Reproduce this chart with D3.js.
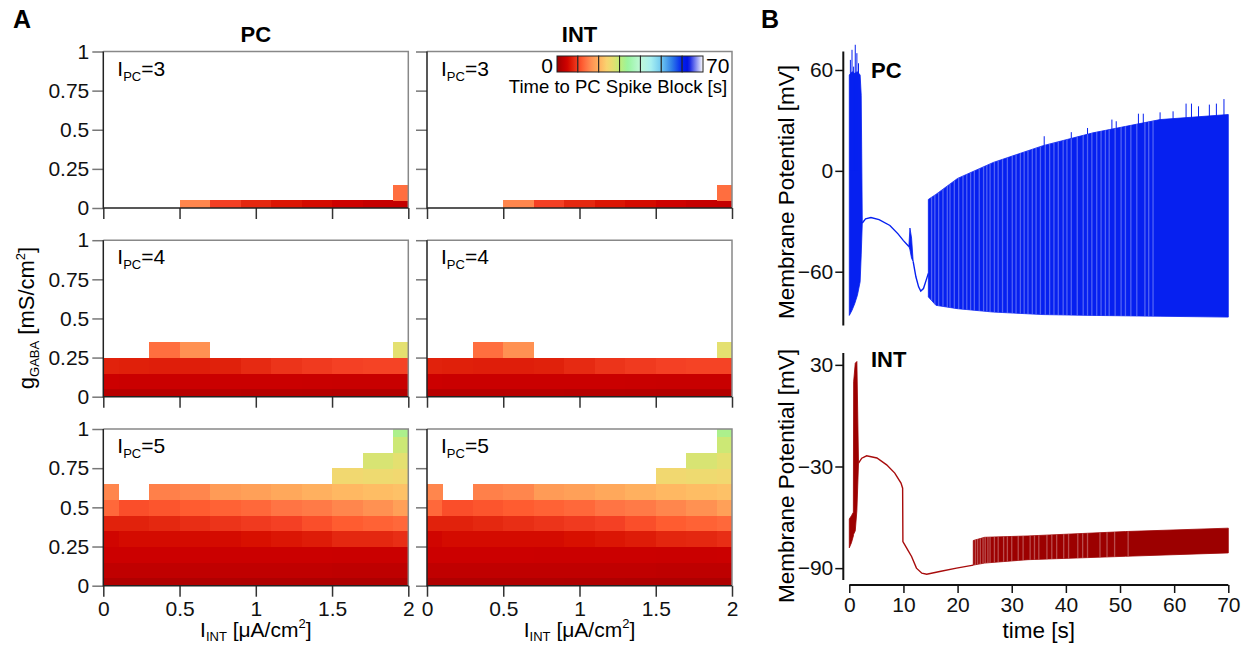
<!DOCTYPE html>
<html>
<head>
<meta charset="utf-8">
<script src="https://cdn.jsdelivr.net/npm/d3@7"></script>
<style>
body{ margin:0; background:#fff; }
svg{ font-family: 'Liberation Sans', Arial, Helvetica, sans-serif; }
</style>
</head>
<body>
<svg id="fig" width="1248" height="648"></svg>
<script>
var N = null;

/**************************************************************************************/
// panel A: parameter grid

var gridX = [0, 0.2, 0.4, 0.6, 0.8, 1.0, 1.2, 1.4, 1.6, 1.8, 2.0];
var gridY = [0, 0.1, 0.2, 0.3, 0.4, 0.5, 0.6, 0.7, 0.8, 0.9, 1.0];
var xTicks = [0, 0.5, 1, 1.5, 2];
var yTicks = [0, 0.25, 0.5, 0.75, 1];
var columns = ['PC', 'INT'];
var currentsPC = [3, 4, 5];

// time to PC spike block [s], one row per gGABA value (bottom up), one entry per I_INT
var blockPC3 = [
    [N, N, N, 15.5, 10, 8, 6.5, 5.5, 4.6, 3.8, 3.5],
    [N, N, N, N, N, N, N, N, N, N, 13.5]
];
var blockPC4 = [
    [2.5, 2.5, 2.5, 2.5, 2.5, 2.4, 2.4, 2.3, 2.2, 2.2, 2.2],
    [4.5, 4.3, 4.3, 4.3, 4.2, 4.2, 4.2, 4.1, 4.0, 4.0, 4.0],
    [7.5, 7.3, 7.2, 7.2, 7.4, 8.2, 9.0, 9.5, 10, 10.2, 10.2],
    [N, N, 13.5, 16.5, N, N, N, N, N, N, 27]
];
var blockPC5 = [
    [2, 2, 2, 2, 2, 1.9, 1.9, 1.8, 1.8, 1.8, 1.8],
    [3, 3, 3, 3, 3, 3, 3, 3, 2.9, 2.9, 2.9],
    [4.5, 4.5, 4.5, 4.5, 4.4, 4.4, 4.4, 4.4, 4.3, 4.3, 4.3],
    [5, 5.5, 5.5, 5.5, 5.5, 6, 6.5, 7, 8, 8, 8.5],
    [7.5, 7.5, 8, 8.5, 9, 9.5, 10, 11, 12, 12.5, 13],
    [13, 11, 11.5, 12, 12.5, 13, 14, 14.5, 15.5, 16.5, 18],
    [15.5, N, 15, 15.5, 17.5, 18, 19, 20, 21, 21.5, 22],
    [N, N, N, N, N, N, N, N, 25, 25.5, 25],
    [N, N, N, N, N, N, N, N, N, 28, 27],
    [N, N, N, N, N, N, N, N, N, N, 29],
    [N, N, N, N, N, N, N, N, N, N, 32]
];
var blockINT3 = [
    [N, N, N, 15.5, 10, 8, 6.5, 5.5, 4.6, 3.8, 3.5],
    [N, N, N, N, N, N, N, N, N, N, 13.5]
];
var blockINT4 = [
    [2.5, 2.5, 2.5, 2.5, 2.5, 2.4, 2.4, 2.3, 2.2, 2.2, 2.2],
    [4.5, 4.3, 4.3, 4.3, 4.2, 4.2, 4.2, 4.1, 4.0, 4.0, 4.0],
    [7.5, 7.3, 7.2, 7.2, 7.4, 8.2, 9.0, 9.5, 10, 10.2, 10.2],
    [N, N, 13.5, 16.5, N, N, N, N, N, N, 27]
];
var blockINT5 = [
    [2, 2, 2, 2, 2, 1.9, 1.9, 1.8, 1.8, 1.8, 1.8],
    [3, 3, 3, 3, 3, 3, 3, 3, 2.9, 2.9, 2.9],
    [4.5, 4.5, 4.5, 4.5, 4.4, 4.4, 4.4, 4.4, 4.3, 4.3, 4.4],
    [5, 5.5, 5.5, 5.5, 5.5, 6, 6.5, 7, 7.8, 8, 8.5],
    [7.5, 7.5, 8, 8.5, 9, 9.5, 10, 11, 12, 12.5, 13],
    [13, 11, 11.5, 12, 12.5, 13, 14, 14.5, 15.5, 16.5, 18],
    [15.5, N, 15, 15.5, 17.5, 18, 19, 20, 21, 21.5, 22],
    [N, N, N, N, N, N, N, N, 25, 25.5, 25],
    [N, N, N, N, N, N, N, N, N, 28, 27],
    [N, N, N, N, N, N, N, N, N, N, 29],
    [N, N, N, N, N, N, N, N, N, N, 32]
];

/**************************************************************************************/
// panel B: membrane potential traces [s], [mV]

var pcBurstT  = [0, 0.5, 1.0, 1.5, 2.0, 2.2, 2.4];
var pcBurstHi = [57, 59, 58, 59, 57, 45, -31];
var pcBurstLo = [-86, -83, -79, -74, -66, -50, -31];
var pcBurstPeakT = [0.2, 0.5, 0.8, 1.1, 1.4, 1.7];
var pcBurstPeakV = [66, 72, 62, 75, 70, 64];

var pcSlowT = [2.4, 3.0, 4.0, 5.5, 7.5, 9.0, 10.0, 11.0];
var pcSlowV = [-31, -28.5, -27.8, -29, -32.5, -37.5, -41.5, -45];

var pcKinkT  = [11.0, 11.2, 11.5, 11.8];
var pcKinkHi = [-45, -34, -40, -54];
var pcKinkLo = [-45, -47, -52, -54];

var pcDipT = [11.8, 12.3, 12.8, 13.2, 13.7, 14.2, 14.6];
var pcDipV = [-54, -63, -69, -71.5, -70, -65, -61];

var pcDenseT  = [14.6, 16, 20, 26.6, 35.8, 45, 57.4, 70];
var pcDenseHi = [-17, -14, -4.5, 5, 15, 22.6, 30.5, 33.5];
var pcDenseLo = [-75, -80, -82, -84, -85.5, -86, -86.5, -87];
var pcPeakT = [36, 41, 44, 48.5, 49.3, 53.4, 54.3, 57.4, 59.8, 62.2, 63.2, 64.5, 66.5, 67.8, 69.2];
var pcPeakV = [20.6, 23, 25.5, 30.5, 29.5, 34, 34, 34.8, 35.4, 40, 40, 38.4, 39.4, 40, 42.7];
var pcGapT = [15.2, 15.8, 16.5, 17.3, 18.1, 18.6, 19.4, 20.2, 21, 21.7, 22.4, 23.1, 24, 24.8, 25.4,
              26, 26.8, 27.5, 28.3, 29.2, 30.1, 30.8, 31.6, 32.3, 33, 33.8, 34.5, 35.3, 36.2, 37,
              37.8, 38.6, 39.5, 40.2, 41, 42.1, 43.2, 44, 44.8, 45.7, 46.5, 47.3, 48, 49.1, 50.2,
              51, 52, 53.1, 54.6, 55.3, 56.1];

var intBurstT  = [0, 0.4, 0.75, 0.8, 1.1, 1.4, 1.7];
var intBurstHi = [-61, -59, -57, 20, 31, 32, -28];
var intBurstLo = [-78, -75, -71, -70, -68, -56, -28];

var intSlowT = [1.7, 2.3, 3.2, 5.1, 6.9, 8.4, 9.55, 9.85, 9.9, 10.6, 11.5, 12.4, 13.4, 14.3, 16.7, 19.8, 22.9];
var intSlowV = [-28, -25.1, -23.7, -25, -29, -33.9, -39.8, -42.8, -74.3, -78.2, -83.1, -90, -93, -93.6, -92, -90, -88.2];

var intBandT  = [22.9, 25, 33, 51, 70];
var intBandHi = [-73.7, -71.8, -71, -68.4, -66.4];
var intBandLo = [-88.2, -87, -85, -83, -81];
var intGapT = [23.3, 23.7, 24.2, 24.7, 25.1, 25.6, 26, 26.8, 27.5, 28.5, 29.2, 30, 31.2, 32.1, 33.4,
               34.2, 35, 36.5, 37.4, 38.3, 39.6, 40.5, 42.2, 43.1, 44, 46.3, 47.6, 49, 51.5];

var timeTicks = [0, 10, 20, 30, 40, 50, 60, 70];
var pcTicks = [-60, 0, 60];
var intTicks = [-90, -30, 30];

/**************************************************************************************/
// colour map of the block time

var cmapV = [0, 2, 3, 4.5, 6, 8, 10, 12, 14, 16, 18, 21, 24, 27, 30, 34, 40, 45, 50, 55, 60, 63, 70];
var cmapC = ['#9a0000','#b00000','#c00000','#cc0000','#d81000','#e42810','#f44024','#ff5c30','#ff7444',
             '#ff8c50','#ffa058','#ffb862','#f8d470','#e4e070','#c0ec78','#98f4a0','#c0f8d8','#a8f0f0',
             '#70c8f0','#3080e8','#0020f0','#0010e0','#ffffff'];
var cmap = d3.scaleLinear().domain(cmapV).range(cmapC).interpolate(d3.interpolateRgb).clamp(true);

var svg = d3.select('#fig');
var colRange = [[103.3, 408.3], [427, 732]];
var rowRange = [[208, 51.5], [396.7, 240.2], [585.7, 429]];
var BLUE = '#0620f0', RED = '#9c0000';

/**************************************************************************************/

function style_axis(g, size){
    g.select('.domain').remove();
    g.attr('font-family', null).attr('font-size', null);
    g.selectAll('text').attr('font-size', size).attr('fill', '#111');
}

function draw_heatmap(col, row, data){
    var x = d3.scaleLinear().domain([0, 2]).range(colRange[col]);
    var y = d3.scaleLinear().domain([0, 1]).range(rowRange[row]);
    var dx = (gridX[1]-gridX[0])/2, dy = (gridY[1]-gridY[0])/2;
    var g = svg.append('g');

    var cells = [];
    data.forEach(function(r, i){
        r.forEach(function(v, j){
            if(v == null){ return }
            cells.push({ x0: Math.max(0, gridX[j]-dx), x1: Math.min(2, gridX[j]+dx),
                         y0: Math.max(0, gridY[i]-dy), y1: Math.min(1, gridY[i]+dy), v: v });
        });
    });

    g.selectAll('rect.cell').data(cells).enter().append('rect')
        .attr('class', 'cell')
        .attr('x', function(d){ return x(d.x0) })
        .attr('y', function(d){ return y(d.y1) })
        .attr('width', function(d){ return x(d.x1)-x(d.x0)+0.4 })
        .attr('height', function(d){ return y(d.y0)-y(d.y1)+0.4 })
        .attr('fill', function(d){ return cmap(d.v) })
        .attr('shape-rendering', 'crispEdges');

    var ya = d3.axisLeft(y).tickValues(yTicks).tickSize(11).tickPadding(3)
        .tickFormat(col == 0 ? function(d){ return String(d) } : '');
    var gy = g.append('g').attr('transform', 'translate(' +x(0)+ ',0)').call(ya);
    style_axis(gy, 21);
    gy.selectAll('line').attr('stroke', '#777').attr('stroke-width', 1.5);

    var xa = d3.axisBottom(x).tickValues(xTicks).tickSize(11).tickPadding(4)
        .tickFormat(row == 2 ? function(d){ return String(d) } : '');
    var gx = g.append('g').attr('transform', 'translate(0,' +y(0)+ ')').call(xa);
    style_axis(gx, 21);
    gx.selectAll('line').attr('stroke', '#333').attr('stroke-width', 1.5);

    // frame
    g.append('path').attr('d', 'M' +x(0)+ ',' +y(1)+ 'H' +x(2)+ 'V' +y(0))
        .attr('fill', 'none').attr('stroke', '#888').attr('stroke-width', 1.5);
    g.append('path').attr('d', 'M' +x(0)+ ',' +y(1)+ 'V' +y(0)+ 'H' +x(2))
        .attr('fill', 'none').attr('stroke', '#222').attr('stroke-width', 1.5);

    var t = g.append('text').attr('x', x(0)+14).attr('y', y(1)+24).attr('font-size', 21);
    t.append('tspan').text('I');
    t.append('tspan').attr('font-size', 13).attr('dy', 5).text('PC');
    t.append('tspan').attr('dy', -5).text('=' + currentsPC[row]);

    if(row == 2){
        var lab = g.append('text').attr('x', (x(0)+x(2))/2).attr('y', 637)
            .attr('text-anchor', 'middle').attr('font-size', 21);
        lab.append('tspan').text('I');
        lab.append('tspan').attr('font-size', 13).attr('dy', 4).text('INT');
        lab.append('tspan').attr('dy', -4).text(' [\u03bcA/cm');
        lab.append('tspan').attr('font-size', 13).attr('dy', -9).text('2');
        lab.append('tspan').attr('dy', 9).text(']');
    }
    if(row == 0){
        g.append('text').attr('x', (x(0)+x(2))/2).attr('y', 42).attr('text-anchor', 'middle')
            .attr('font-size', 22).attr('font-weight', 'bold').text(columns[col]);
    }
}

/**************************************************************************************/

function draw_colorbar(){
    var cx = d3.scaleLinear().domain([0, 70]).range([557, 703]);
    var defs = svg.append('defs');
    var segs = d3.range(0, 70, 10);
    segs.forEach(function(s, i){
        var grad = defs.append('linearGradient').attr('id', 'cb' + i);
        d3.range(0, 1.01, 0.125).forEach(function(f){
            grad.append('stop').attr('offset', f).attr('stop-color', cmap(s + 10*f));
        });
    });
    svg.selectAll('rect.cb').data(segs).enter().append('rect')
        .attr('x', function(d){ return cx(d) }).attr('y', 56)
        .attr('width', cx(10)-cx(0)).attr('height', 16)
        .attr('fill', function(d, i){ return 'url(#cb' + i + ')' })
        .attr('stroke', '#222').attr('stroke-width', 1);
    svg.append('text').attr('x', cx(0)-4).attr('y', 73).attr('text-anchor', 'end').attr('font-size', 21).text('0');
    svg.append('text').attr('x', cx(70)+3).attr('y', 73).attr('font-size', 21).text('70');
    svg.append('text').attr('x', 618).attr('y', 93).attr('text-anchor', 'middle').attr('font-size', 18.5)
        .text('Time to PC Spike Block [s]');
}

/**************************************************************************************/

var xB = d3.scaleLinear().domain([0, 70]).range([849.3, 1228.3]);
var yPC = d3.scaleLinear().domain([-92, 71]).range([325.5, 51.5]);
var yINT = d3.scaleLinear().domain([-97, 37]).range([580, 353]);

function band(t, hi, lo){
    return t.map(function(d, i){ return { t: d, hi: hi[i], lo: lo[i] } });
}

function draw_band(g, y, data, color, id, gaps){
    var area = d3.area().x(function(d){ return xB(d.t) })
        .y0(function(d){ return y(d.lo) }).y1(function(d){ return y(d.hi) });
    g.append('path').attr('d', area(data)).attr('fill', color).attr('stroke', color).attr('stroke-width', 0.8);
    if(!gaps){ return }
    g.append('clipPath').attr('id', id).append('path').attr('d', area(data));
    var d0 = y.domain();
    g.append('g').attr('clip-path', 'url(#' + id + ')')
        .selectAll('line').data(gaps).enter().append('line')
        .attr('x1', function(d){ return xB(d) }).attr('x2', function(d){ return xB(d) })
        .attr('y1', y(d0[1])).attr('y2', y(d0[0]))
        .attr('stroke', '#fff').attr('stroke-opacity', 0.3).attr('stroke-width', 1.3);
}

function draw_line(g, y, t, v, color, w){
    var line = d3.line().x(function(d){ return xB(d[0]) }).y(function(d){ return y(d[1]) });
    g.append('path').attr('d', line(t.map(function(d, i){ return [d, v[i]] })))
        .attr('fill', 'none').attr('stroke', color).attr('stroke-width', w);
}

function draw_peaks(g, y, t, v, base, color){
    g.selectAll(null).data(t).enter().append('line')
        .attr('x1', function(d){ return xB(d) }).attr('x2', function(d){ return xB(d) })
        .attr('y1', function(d, i){ return y(v[i]) }).attr('y2', y(base))
        .attr('stroke', color).attr('stroke-width', 1);
}

function draw_yaxis(y, ticks, label, mid){
    var g = svg.append('g').attr('transform', 'translate(843.3,0)')
        .call(d3.axisLeft(y).tickValues(ticks).tickSize(8).tickPadding(2));
    style_axis(g, 21);
    g.selectAll('line').attr('stroke', '#111').attr('stroke-width', 1.5);
    var r = y.range();
    svg.append('line').attr('x1', 843.3).attr('x2', 843.3).attr('y1', r[0]).attr('y2', r[1])
        .attr('stroke', '#111').attr('stroke-width', 2);
    svg.append('text').attr('transform', 'translate(794,' +mid+ ') rotate(-90)')
        .attr('text-anchor', 'middle').attr('font-size', 22.5).text(label);
}

function draw_traces(){
    var g = svg.append('g');

    draw_band(g, yPC, band(pcBurstT, pcBurstHi, pcBurstLo), BLUE);
    draw_peaks(g, yPC, pcBurstPeakT, pcBurstPeakV, 0, BLUE);
    draw_line(g, yPC, pcSlowT, pcSlowV, BLUE, 1.4);
    draw_band(g, yPC, band(pcKinkT, pcKinkHi, pcKinkLo), BLUE);
    draw_line(g, yPC, pcDipT, pcDipV, BLUE, 1.4);
    draw_peaks(g, yPC, pcPeakT, pcPeakV, -60, BLUE);
    draw_band(g, yPC, band(pcDenseT, pcDenseHi, pcDenseLo), BLUE, 'clipPC', pcGapT);

    draw_band(g, yINT, band(intBurstT, intBurstHi, intBurstLo), RED);
    draw_line(g, yINT, intSlowT, intSlowV, '#a80c0c', 1.4);
    draw_band(g, yINT, band(intBandT, intBandHi, intBandLo), RED, 'clipINT', intGapT);

    draw_yaxis(yPC, pcTicks, 'Membrane Potential [mV]', 192);
    draw_yaxis(yINT, intTicks, 'Membrane Potential [mV]', 476);

    var gx = svg.append('g').attr('transform', 'translate(0,585)')
        .call(d3.axisBottom(xB).tickValues(timeTicks).tickSize(8).tickPadding(4));
    style_axis(gx, 21);
    gx.selectAll('line').attr('stroke', '#111').attr('stroke-width', 1.5);
    svg.append('line').attr('x1', xB(0)).attr('x2', xB(70)).attr('y1', 585).attr('y2', 585)
        .attr('stroke', '#111').attr('stroke-width', 2);
    svg.append('text').attr('x', (xB(0)+xB(70))/2).attr('y', 638).attr('text-anchor', 'middle')
        .attr('font-size', 22.5).text('time [s]');

    svg.append('text').attr('x', 871).attr('y', 78).attr('font-size', 22).attr('font-weight', 'bold').text('PC');
    svg.append('text').attr('x', 871).attr('y', 367).attr('font-size', 22).attr('font-weight', 'bold').text('INT');
}

/**************************************************************************************/

var blocks = [[blockPC3, blockPC4, blockPC5], [blockINT3, blockINT4, blockINT5]];
blocks.forEach(function(c, i){ c.forEach(function(d, j){ draw_heatmap(i, j, d); }); });
draw_colorbar();
draw_traces();

svg.append('text').attr('x', 13).attr('y', 28).attr('font-size', 25).attr('font-weight', 'bold').text('A');
svg.append('text').attr('x', 761).attr('y', 28).attr('font-size', 25).attr('font-weight', 'bold').text('B');

var gl = svg.append('text').attr('transform', 'translate(34,318) rotate(-90)')
    .attr('text-anchor', 'middle').attr('font-size', 22);
gl.append('tspan').text('g');
gl.append('tspan').attr('font-size', 13).attr('dy', 5).text('GABA');
gl.append('tspan').attr('dy', -5).text(' [mS/cm');
gl.append('tspan').attr('font-size', 13).attr('dy', -9).text('2');
gl.append('tspan').attr('dy', 9).text(']');
</script>
</body>
</html>
